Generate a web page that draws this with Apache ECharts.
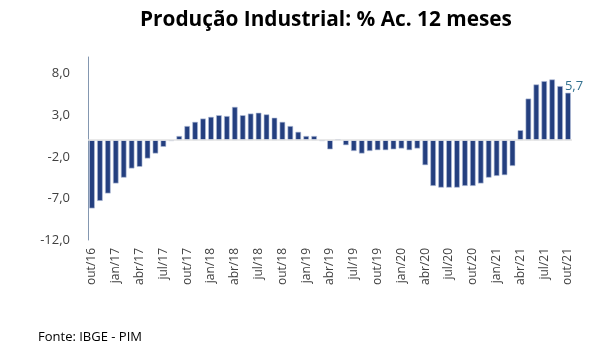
<!DOCTYPE html>
<html>
<head>
<meta charset="utf-8">
<script src="https://cdn.jsdelivr.net/npm/echarts@6/dist/echarts.min.js"></script>
<style>
html,body{margin:0;padding:0;background:#fff;}
#c{width:592px;height:352px;}
</style>
</head>
<body>
<div id="c"></div>
<script>
const months = ['jan','fev','mar','abr','mai','jun','jul','ago','set','out','nov','dez'];
const categories = [];
(function(){ let m = 9, y = 16; for (let i = 0; i < 61; i++) { categories.push(months[m] + '/' + y); m++; if (m === 12) { m = 0; y++; } } })();

const values = [
  -8.2, -7.3, -6.4, -5.2, -4.5, -3.4, -3.2, -2.2, -1.6, -0.8,
  -0.1, 0.5, 1.7, 2.2, 2.6, 2.8, 3.0, 2.9, 4.0, 3.0,
  3.2, 3.3, 3.1, 2.7, 2.2, 1.7, 1.0, 0.5, 0.5, -0.1,
  -1.1, 0.1, -0.6, -1.3, -1.6, -1.3, -1.2, -1.2, -1.1, -1.0,
  -1.2, -1.0, -3.0, -5.5, -5.7, -5.7, -5.7, -5.5, -5.5, -5.2,
  -4.5, -4.3, -4.2, -3.1, 1.2, 5.0, 6.7, 7.1, 7.3, 6.5,
  5.7
];

const yTicks = [-12, -7, -2, 3, 8];

const fmt = v => v.toFixed(1).replace('.', ',');

const seriesData = values.map((v, i) => i === values.length - 1
  ? { value: v, label: { show: true, position: 'top', distance: 2, offset: [6, 2], color: '#31708F', fontSize: 13, fontFamily: 'Open Sans', formatter: p => fmt(p.value) } }
  : v);

const chart = echarts.init(document.getElementById('c'), null, { renderer: 'canvas' });
chart.setOption({
  animation: false,
  backgroundColor: '#fff',
  title: {
    text: 'Produção Industrial: % Ac. 12 meses',
    left: 135,
    top: 5,
    textStyle: { fontFamily: 'Open Sans', fontWeight: 'bold', fontSize: 20.8, color: '#000' }
  },
  graphic: [{
    type: 'text', left: 38, top: 331,
    style: { text: 'Fonte: IBGE - PIM', fontFamily: 'Open Sans', fontSize: 13, fill: '#000' }
  }],
  grid: { left: 88, right: 20, top: 57, bottom: 112, containLabel: false },
  xAxis: {
    type: 'category',
    data: categories,
    boundaryGap: true,
    axisLine: { show: false, onZero: false },
    axisTick: { show: false },
    axisLabel: {
      interval: 2, rotate: 90, margin: 8,
      fontFamily: 'Open Sans', fontSize: 12, color: '#404040'
    },
    splitLine: { show: false }
  },
  yAxis: {
    type: 'value',
    min: -12, max: 10, interval: 5,
    axisLine: { show: true, lineStyle: { color: '#8497B0', width: 1 } },
    axisTick: { show: false },
    splitLine: { show: false },
    axisLabel: {
      showMaxLabel: false,
      margin: 18,
      fontFamily: 'Open Sans', fontSize: 13, color: '#404040',
      formatter: v => yTicks.indexOf(v) >= 0 ? fmt(v) : ''
    }
  },
  series: [{
    type: 'bar',
    data: seriesData,
    barCategoryGap: '30%',
    itemStyle: { color: '#243F7F', borderColor: '#B4C0DA', borderWidth: 0.6 },
    markLine: {
      silent: true, symbol: 'none', label: { show: false },
      lineStyle: { color: '#E2E2E2', type: 'solid', width: 1.5 },
      data: [{ yAxis: 0 }]
    },
    z: 3
  }]
});
</script>
</body>
</html>
